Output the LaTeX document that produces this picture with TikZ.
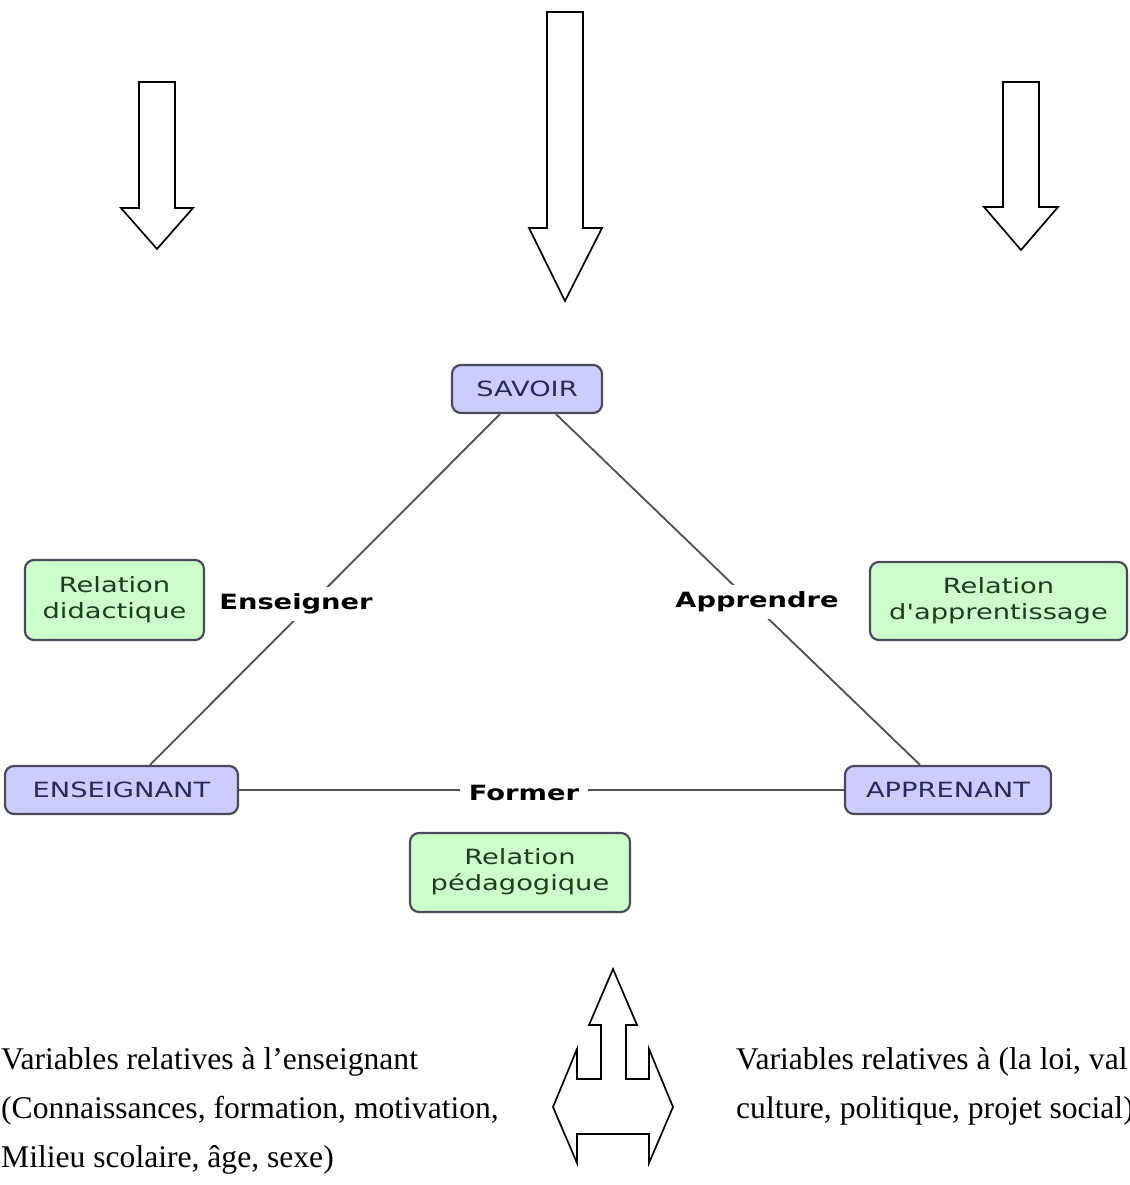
\documentclass[tikz,border=0pt]{standalone}
\usepackage{graphicx}
\usepackage{fontspec}
\setmainfont{Liberation Serif}
\newfontfamily\vfont{DejaVu Sans}[Ligatures=TeXOff]
\newcommand\wide[1]{\scalebox{1.3}[1]{#1}}
\newcommand\twol[2]{\wide{\begin{tabular}{@{}c@{}}#1\\#2\end{tabular}}}
\definecolor{lav}{HTML}{CCCCFF}
\definecolor{lgreen}{HTML}{CCFFCC}
\definecolor{bordc}{HTML}{4A4A5A}
\definecolor{ctext}{HTML}{2A2A55}
\definecolor{rtext}{HTML}{1E3C1E}
\definecolor{linec}{HTML}{505050}
\tikzset{
  cbox/.style={draw=bordc, line width=2.2pt, rounded corners=9pt, inner sep=0pt,
    font=\vfont\fontsize{21}{26}\selectfont},
  concept/.style={cbox, fill=lav, text=ctext},
  rel/.style={cbox, fill=lgreen, text=rtext},
  lab/.style={fill=white, inner xsep=9pt, inner ysep=7pt,
    font=\vfont\bfseries\fontsize{21}{26}\selectfont},
  link/.style={draw=linec, line width=1.8pt},
  blk/.style={draw=black, line width=1.7pt, fill=white, line join=miter},
  body/.style={font=\fontsize{31.6}{38}\selectfont, inner sep=0pt, anchor=base west}
}
\begin{document}
\begin{tikzpicture}[x=1pt,y=-1pt]
\useasboundingbox[fill=white] (0,0) rectangle (1129,1185);

% block arrows
\draw[blk] (139,82) -- (175,82) -- (175,208) -- (193,208) -- (157,249) -- (121,208) -- (139,208) -- cycle;
\draw[blk] (547,12) -- (583,12) -- (583,228) -- (602,228) -- (565,301) -- (529,228) -- (547,228) -- cycle;
\draw[blk] (1003,82) -- (1039,82) -- (1039,207) -- (1058,207) -- (1021,250) -- (984,207) -- (1003,207) -- cycle;
\draw[blk] (613,969) -- (637,1025) -- (626,1025) -- (626,1079) -- (649,1079) -- (649,1049) -- (673,1107)
  -- (649,1163) -- (649,1134) -- (577,1134) -- (577,1163) -- (553,1107) -- (577,1049) -- (577,1079)
  -- (601,1079) -- (601,1025) -- (589,1025) -- cycle;

% concept nodes
\node[concept, minimum width=150pt, minimum height=48pt] (sav) at (527,389) {\wide{SAVOIR}};
\node[concept, minimum width=233pt, minimum height=48pt] (ens) at (121.5,790) {\wide{ENSEIGNANT}};
\node[concept, minimum width=206pt, minimum height=48pt] (app) at (948,790) {\wide{APPRENANT}};

% relation nodes
\node[rel, minimum width=179pt, minimum height=80pt] (rdid) at (114.5,600) {\twol{Relation}{didactique}};
\node[rel, minimum width=257pt, minimum height=78pt] (rapp) at (998.5,601) {\twol{Relation}{d'apprentissage}};
\node[rel, minimum width=220pt, minimum height=79pt] (rped) at (520,872.5) {\twol{Relation}{pédagogique}};

% links
\draw[link] ([xshift=-27pt]sav.south) -- ([xshift=28.5pt]ens.north);
\draw[link] ([xshift=29pt]sav.south) -- ([xshift=-28pt]app.north);
\draw[link] (ens.east) -- (app.west);

% link labels
\node[lab] (lens) at (296,604) {\wide{Enseigner}};
\node[lab] (lapp) at (757,602) {\wide{Apprendre}};
\node[lab] (lfor) at (524,793) {\wide{Former}};

% text
\node[body] (l1) at (1,1069) {Variables relatives à l’enseignant};
\node[body] (l2) at (1,1118) {(Connaissances, formation, motivation,};
\node[body] (l3) at (1,1167) {Milieu scolaire, âge, sexe)};
\node[body] (r1) at (736,1069) {Variables relatives à (la loi, val};
\node[body] (r2) at (736,1118) {culture, politique, projet social)};
\end{tikzpicture}
\end{document}
